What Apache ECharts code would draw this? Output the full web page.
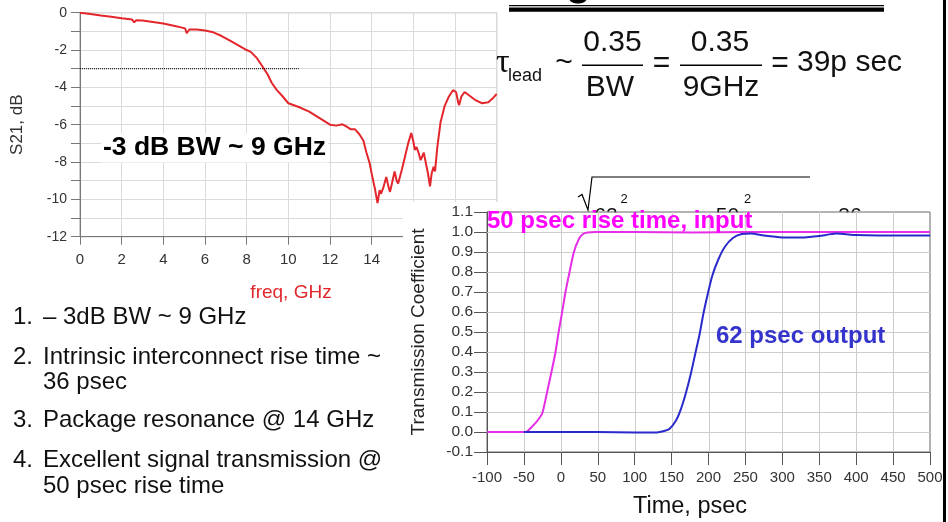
<!DOCTYPE html>
<html><head><meta charset="utf-8">
<script src="https://cdn.jsdelivr.net/npm/echarts@6/dist/echarts.min.js"></script>
<style>html,body{margin:0;padding:0;background:#fff;overflow:hidden}
.c{position:absolute;left:0;top:0;width:948px;height:522px}</style>
</head><body><div id="c1" class="c"></div><div id="c2" class="c"></div>
<script>
// ---- Left chart: S21 vs frequency ----
const freqGHz = [0,0.5,1,1.5,2,2.5,2.6,2.7,3,3.5,4,4.5,4.9,5.05,5.12,5.25,5.6,6,6.4,6.8,7.2,7.6,8,8.2,8.5,8.8,9.0,9.2,9.45,9.7,10,10.5,11,11.5,12,12.3,12.6,12.8,13.0,13.2,13.4,13.6,13.75,13.9,14.05,14.15,14.28,14.38,14.45,14.55,14.7,14.8,14.88,15.0,15.1,15.2,15.27,15.45,15.6,15.75,15.9,16.0,16.07,16.15,16.25,16.35,16.42,16.5,16.58,16.7,16.8,16.88,16.97,17.04,17.15,17.3,17.5,17.7,17.9,18.05,18.15,18.2,18.3,18.46,18.7,19.0,19.3,19.6,19.8,20];
const s21dB = [0,-0.07,-0.15,-0.22,-0.3,-0.37,-0.52,-0.4,-0.42,-0.5,-0.58,-0.7,-0.8,-0.85,-1.1,-0.9,-0.9,-0.95,-1.05,-1.25,-1.5,-1.75,-2.0,-2.1,-2.45,-2.95,-3.3,-3.75,-4.15,-4.45,-4.85,-5.05,-5.3,-5.65,-6.0,-6.05,-5.98,-6.1,-6.25,-6.25,-6.5,-6.85,-7.5,-8.05,-8.9,-9.4,-10.2,-9.5,-9.7,-9.4,-8.8,-9.3,-9.6,-9.0,-8.5,-9.0,-9.15,-8.4,-7.7,-7.0,-6.45,-6.9,-7.35,-7.2,-7.5,-7.9,-7.95,-7.5,-7.45,-8.6,-9.3,-8.6,-8.25,-8.5,-7.2,-5.9,-5.0,-4.5,-4.15,-4.25,-4.8,-4.95,-4.5,-4.25,-4.45,-4.7,-4.85,-4.8,-4.6,-4.35];
const refFreqGHz = [0, 10.5];
const refDB = [-3, -3];
const freqTicks = {min: 0, max: 20, step: 2};
const dbTicks = {min: -12, max: 0, step: 1};

// ---- Right chart: step response ----
const timeInputPs = [-100,-50,-45,-39,-32,-25,-18.6,-12.7,-7.2,-3,1.8,6.3,11.8,17.7,24.5,30,36,47,100,180,250,500];
const inputCoef = [0,0,0.005,0.027,0.055,0.095,0.2,0.3,0.4,0.5,0.6,0.7,0.8,0.9,0.965,0.99,0.998,1.0,1.0,0.998,1.0,1.0];
const timeOutputPs = [-50,0,50,100,130,140,147,156,162,169,176,182,188,193,199,205,213,222,233,245,258,275,300,330,350,373,400,430,500];
const outputCoef = [0,0,0,-0.002,-0.002,0.005,0.015,0.058,0.108,0.19,0.29,0.39,0.49,0.59,0.69,0.78,0.86,0.925,0.97,0.99,0.993,0.982,0.973,0.973,0.98,0.992,0.985,0.983,0.983];
const timeTickValues = [-100,-50,0,50,100,150,200,250,300,350,400,450,500];
const coefTickValues = [-0.1,0,0.1,0.2,0.3,0.4,0.5,0.6,0.7,0.8,0.9,1.0,1.1];

// ---- Text ----
const listNumbers = ['1.', '2.', '', '3.', '4.', ''];
const listLines = ['\u2013 3dB BW ~ 9 GHz', 'Intrinsic interconnect rise time ~', '36 psec', 'Package resonance @ 14 GHz', 'Excellent signal transmission @', '50 psec rise time'];
const listY = [317, 357, 382, 420, 460, 486];

const SANS = 'Liberation Sans, Arial, Helvetica, sans-serif';
const zip = (a, b) => a.map((v, i) => [v, b[i]]);

function txt(text, x, y, size, opts) {
  opts = opts || {};
  return {
    type: 'text', x: x, y: y, z: opts.z != null ? opts.z : 11,
    rotation: opts.rotation || 0,
    style: {
      text: text, x: 0, y: 0,
      fontSize: size, fontFamily: opts.family || SANS, fontWeight: opts.weight || 'normal',
      fill: opts.color || '#111', align: opts.align || 'left', verticalAlign: 'middle',
      backgroundColor: opts.bg, padding: opts.pad
    }
  };
}
function box(x, y, w, h, fill, z) {
  return {type:'rect', z: z, shape:{x:x, y:y, width:w, height:h}, style:{fill:fill}};
}

// ================= Layer 1: left chart, formula, list =================
const g1 = [];
g1.push({type:'ellipse', z:11, shape:{cx:578, cy:-1, rx:8.5, ry:4.5}, style:{fill:'#000'}});
g1.push(box(509, 5, 375, 1.2, '#000', 11));
g1.push(box(509, 7.5, 375, 4.2, '#000', 11));
g1.push(box(943, 0, 3, 522, '#000', 30));
// formula
g1.push(txt('\u03c4', 496, 63, 34, {family:'Liberation Serif, Times New Roman, serif'}));
g1.push(txt('lead', 508, 76, 18));
g1.push(txt('~', 564, 63, 30, {align:'center'}));
g1.push(txt('0.35', 612.5, 42.5, 30, {align:'center'}));
g1.push(box(582, 64.5, 61, 1.5, '#000', 11));
g1.push(txt('BW', 610, 87.5, 30, {align:'center'}));
g1.push(txt('=', 661.5, 64, 30, {align:'center'}));
g1.push(txt('0.35', 720, 42.5, 30, {align:'center'}));
g1.push(box(680, 64.5, 82, 1.5, '#000', 11));
g1.push(txt('9GHz', 721, 87.5, 30, {align:'center'}));
g1.push(txt('=', 780, 64, 30, {align:'center'}));
g1.push(txt('39p sec', 797, 63, 30));
// partially hidden square-root formula
g1.push({type:'polyline', z:11, shape:{points:[[578,197],[582,194.5],[588,210],[592,177],[810,177]]}, style:{stroke:'#000', lineWidth:1.2, fill:null}});
g1.push(txt('2', 624, 199, 13, {align:'center'}));
g1.push(txt('2', 747.5, 199, 13, {align:'center'}));
g1.push(txt('62', 606, 216, 21, {align:'center'}));
g1.push(txt('50', 727.5, 216, 21, {align:'center'}));
g1.push(txt('36', 850, 216, 21, {align:'center'}));
// white panel of the right chart (hides the left chart corner and the formula's lower part)
g1.push(box(403, 202, 107, 73, '#fff', 20));
g1.push(box(487, 212.6, 443, 240, '#fff', 20));
// list
listLines.forEach((t, i) => {
  if (listNumbers[i]) g1.push(txt(listNumbers[i], 13, listY[i], 24));
  g1.push(txt(t, 43, listY[i], 24));
});
g1.push(txt('-3 dB BW ~ 9 GHz', 101, 148, 26.5, {weight:'bold', color:'#000', bg:'#fff', pad:[1,2], z:2}));
g1.push(txt('S21, dB', 17.5, 124.7, 17, {align:'center', rotation:Math.PI/2, color:'#333', z:2}));
g1.push(txt('freq, GHz', 291, 293, 19, {align:'center', color:'#e0282c', z:2}));

const chart1 = echarts.init(document.getElementById('c1'), null, {renderer:'canvas'});
chart1.setOption({
  animation: false,
  backgroundColor: '#fff',
  grid: {left:80, top:12.7, width:416.7, height:224, show:true, backgroundColor:'#fff', borderColor:'#9a9a9a', borderWidth:1},
  xAxis: {type:'value', min:freqTicks.min, max:freqTicks.max, interval:freqTicks.step,
     axisLine:{show:true, onZero:false, lineStyle:{color:'#777'}},
     axisTick:{show:true, length:8, lineStyle:{color:'#777'}},
     axisLabel:{margin:16, fontSize:15, color:'#333', fontFamily:SANS},
     splitLine:{show:true, lineStyle:{color:'#dadada'}}},
  yAxis: {type:'value', min:dbTicks.min, max:dbTicks.max, interval:dbTicks.step,
     axisLine:{show:true, onZero:false, lineStyle:{color:'#777'}},
     axisTick:{show:true, length:9, lineStyle:{color:'#777'}},
     axisLabel:{margin:13, fontSize:14, color:'#333', fontFamily:SANS, formatter: v => (Math.round(v) % 2 === 0 ? String(Math.round(v)) : '')},
     splitLine:{show:true, lineStyle:{color:'#dadada'}}},
  series: [
    {type:'line', data:zip(freqGHz, s21dB), showSymbol:false, lineStyle:{color:'#e3262b', width:2}},
    {type:'line', data:zip(refFreqGHz, refDB), showSymbol:false, lineStyle:{color:'#000', width:1, type:'dotted'}}
  ],
  graphic: g1
});

// ================= Layer 2: right chart =================
const g2 = [];
g2.push(txt('Transmission Coefficient', 418.5, 332, 19, {align:'center', rotation:Math.PI/2, color:'#222', z:10}));
g2.push(txt('Time, psec', 690, 507, 23.5, {align:'center', color:'#111', z:10}));
g2.push(txt('50 psec rise time, input', 487, 221, 24, {weight:'bold', color:'#ff00ff', z:10}));
g2.push(txt('62 psec output', 716, 336, 24, {weight:'bold', color:'#3434cc', z:10}));

const chart2 = echarts.init(document.getElementById('c2'), null, {renderer:'canvas'});
chart2.setOption({
  animation: false,
  backgroundColor: 'transparent',
  grid: {left:487, top:212, width:443, height:240, show:true, backgroundColor:'transparent', borderColor:'#666', borderWidth:1},
  xAxis: {type:'value', min:timeTickValues[0], max:timeTickValues[timeTickValues.length-1], interval:50,
     axisLine:{show:true, onZero:false, lineStyle:{color:'#555'}},
     axisTick:{show:true, length:13, lineStyle:{color:'#555'}},
     axisLabel:{margin:18, fontSize:15, color:'#333', fontFamily:SANS},
     splitLine:{show:false}},
  yAxis: {type:'value', min:coefTickValues[0], max:coefTickValues[coefTickValues.length-1], interval:0.1,
     axisLine:{show:true, onZero:false, lineStyle:{color:'#555'}},
     axisTick:{show:true, length:13, lineStyle:{color:'#555'}},
     axisLabel:{margin:14, fontSize:15.5, color:'#333', fontFamily:SANS, formatter: v => v.toFixed(1)},
     splitLine:{show:false}},
  series: [
    {type:'line', z:6, data:zip(timeInputPs, inputCoef), showSymbol:false, smooth:0.2, lineStyle:{color:'#e52ee5', width:2}},
    {type:'line', z:6, data:zip(timeOutputPs, outputCoef), showSymbol:false, smooth:0.2, lineStyle:{color:'#2a2acc', width:2}}
  ],
  graphic: g2
});

// grid lines of the right chart, placed through the chart's own scales
const tMin = timeTickValues[0], tMax = timeTickValues[timeTickValues.length-1];
const cMin = coefTickValues[0], cMax = coefTickValues[coefTickValues.length-1];
const crisp = v => Math.round(v) + 0.5;
const gridLines = [];
timeTickValues.slice(1, -1).forEach(t => {
  const p0 = chart2.convertToPixel({gridIndex:0}, [t, cMin]);
  const p1 = chart2.convertToPixel({gridIndex:0}, [t, cMax]);
  gridLines.push({type:'line', z:5, silent:true, shape:{x1:crisp(p0[0]), y1:p0[1], x2:crisp(p1[0]), y2:p1[1]}, style:{stroke:'#cdcdcd', lineWidth:1}});
});
coefTickValues.slice(1, -1).forEach(c => {
  const p0 = chart2.convertToPixel({gridIndex:0}, [tMin, c]);
  const p1 = chart2.convertToPixel({gridIndex:0}, [tMax, c]);
  gridLines.push({type:'line', z:5, silent:true, shape:{x1:p0[0], y1:crisp(p0[1]), x2:p1[0], y2:crisp(p1[1])}, style:{stroke:'#cdcdcd', lineWidth:1}});
});
chart2.setOption({graphic: g2.concat(gridLines)}, {replaceMerge:['graphic']});
</script></body></html>
